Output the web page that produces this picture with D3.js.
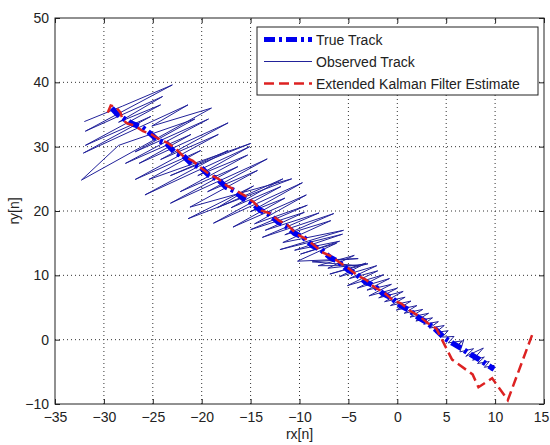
<!DOCTYPE html>
<html>
<head>
<meta charset="utf-8">
<script src="https://cdn.jsdelivr.net/npm/d3@7"></script>
<style>
  body { margin: 0; background: #fff; }
  text { font-family: "Liberation Sans", Arial, sans-serif; font-size: 14px; fill: #222; }
</style>
</head>
<body>
<div id="vis"></div>
<script>
// true track (thick blue dash-dot)
const trueX = [-29.2, -28.6, -27.8, -27.0, -26.1, -25.3, -24.5, -23.6, -22.7, -21.9, -21.0, -20.1, -19.3, -18.4,
  -17.5, -16.6, -15.8, -14.9, -14.0, -13.1, -12.2, -11.3, -10.5, -9.6, -8.7, -7.8, -6.9, -6.0, -5.1, -4.2,
  -3.3, -2.4, -1.5, -0.6, 0.3, 1.2, 2.1, 3.0, 3.9, 4.8, 5.7, 6.6, 7.5, 8.4, 9.2, 9.9]
const trueY = [36.0, 35.0, 34.2, 33.5, 33.0, 32.1, 31.0, 30.5, 29.0, 28.6, 27.3, 26.8, 25.6, 25.0,
  23.7, 23.1, 22.0, 21.3, 20.1, 19.5, 18.3, 17.6, 16.5, 15.9, 14.6, 14.0, 12.8, 12.1, 10.9, 10.2,
  9.0, 8.4, 7.2, 6.5, 5.3, 4.6, 3.5, 2.7, 1.6, 0.3, -0.6, -1.4, -2.3, -3.1, -3.9, -4.6]

// observed track (thin navy line)
const obsX = [-32.0, -28.1, -23.0, -31.9, -24.0, -28.5, -24.2, -31.9, -25.2, -32.1, -21.4, -25.1, -19.0, -32.3,
  -28.5, -20.7, -26.8, -19.3, -27.8, -21.1, -26.4, -17.3, -24.2, -18.3, -26.8, -20.1, -25.4, -15.0,
  -23.2, -17.3, -25.8, -15.1, -20.4, -15.3, -22.2, -16.3, -23.2, -13.3, -19.4, -14.3, -21.2, -10.8,
  -21.4, -14.7, -18.4, -11.7, -17.0, -11.9, -18.8, -9.7, -15.0, -11.5, -16.8, -9.3, -14.6, -9.2,
  -15.0, -9.5, -13.5, -8.0, -13.8, -6.5, -11.5, -6.8, -11.7, -5.5, -12.0, -5.6, -10.5, -5.9,
  -9.9, -6.2, -10.2, -4.0, -8.7, -3.9, -8.1, -4.4, -7.1, -3.0, -6.9, -3.2, -5.9, -2.1,
  -4.9, -2.0, -5.1, -1.4, -4.1, -0.8, -3.1, -0.6, -2.9, 0.0, -1.9, 0.6, -1.3, 0.8,
  -0.7, 1.4, -0.1, 2.0, 0.7, 2.6, 1.3, 3.2, 1.9, 3.6, 2.7, 4.2, 3.3, 4.8, 3.9, 5.2,
  4.6, 5.8, 5.2, 6.6, 6.0, 6.8, 6.4, 7.8, 7.0, 8.8, 7.7, 8.9, 8.2, 9.4, 8.9, 9.9, 9.6]
const obsY = [33.9, 36.3, 39.6, 32.4, 37.8, 33.8, 36.5, 30.2, 34.7, 29.0, 36.5, 33.2, 36.0, 24.8,
  30.2, 34.3, 29.2, 34.3, 27.4, 31.9, 27.4, 33.7, 28.0, 31.9, 24.9, 29.4, 24.9, 30.5,
  25.5, 29.4, 22.5, 30.0, 25.5, 28.7, 23.0, 26.9, 21.2, 28.1, 23.0, 26.3, 20.6, 25.0,
  18.8, 23.9, 20.5, 25.0, 20.5, 23.8, 18.1, 24.4, 19.9, 22.0, 17.5, 22.5, 18.0, 20.9,
  17.1, 19.8, 17.0, 19.7, 15.9, 19.6, 16.3, 18.5, 15.1, 17.0, 14.0, 16.4, 13.9, 15.3,
  13.3, 15.0, 12.2, 12.6, 12.1, 11.5, 11.5, 13.1, 11.1, 11.8, 10.2, 11.9, 9.8, 11.5,
  9.5, 10.7, 8.4, 10.1, 8.0, 9.5, 7.7, 8.6, 6.8, 8.0, 6.5, 7.5, 5.9, 6.6,
  5.3, 6.0, 4.6, 5.3, 4.1, 4.7, 3.5, 4.1, 2.9, 3.4, 2.4, 2.8, 1.8, 2.2, 1.1, 1.4,
  0.4, 0.5, -0.5, -0.2, -1.2, 0.0, -1.9, -1.4, -2.6, -1.3, -3.2, -2.7, -3.7, -3.4, -4.3, -4.0, -4.8]

// extended kalman filter estimate (red dashed)
const ekfX = [-29.6, -29.3, -28.8, -28.3, -28.1, -27.6, -26.9, -26.0, -25.2, -24.4, -23.5, -22.6, -21.8, -20.9,
  -20.0, -19.1, -18.3, -17.4, -16.5, -15.6, -14.7, -13.9, -13.0, -12.1, -11.2, -10.3, -9.5, -8.6,
  -7.7, -6.8, -5.9, -5.0, -4.1, -3.2, -2.3, -1.4, -0.5, 0.4, 1.3, 2.2, 3.1, 4.0, 4.9, 5.6,
  7.7, 8.3, 9.7, 11.3, 13.9]
const ekfY = [35.3, 36.4, 36.2, 35.3, 34.2, 33.6, 33.3, 32.4, 32.0, 31.2, 30.6, 29.6, 28.4, 27.8,
  26.6, 25.6, 25.0, 23.9, 23.2, 22.4, 21.4, 20.1, 19.6, 18.5, 17.8, 16.4, 15.8, 14.8,
  13.6, 13.0, 12.0, 11.1, 10.0, 9.3, 8.1, 7.4, 6.2, 5.6, 4.5, 3.7, 2.6, 1.7, -1.0, -3.1,
  -5.4, -7.4, -6.0, -9.4, 1.2]

const xTicks = [-35, -30, -25, -20, -15, -10, -5, 0, 5, 10, 15]
const yTicks = [-10, 0, 10, 20, 30, 40, 50]
const legendNames = ['True Track', 'Observed Track', 'Extended Kalman Filter Estimate']

const width = 550
const height = 445
const margin = { top: 18, right: 6, bottom: 41, left: 55 }

const svg = d3.select('#vis').append('svg')
  .attr('width', width)
  .attr('height', height)

const x = d3.scaleLinear().domain([-35, 15]).range([margin.left, width - margin.right])
const y = d3.scaleLinear().domain([-10, 50]).range([height - margin.bottom, margin.top])

// dotted grid
const grid = svg.append('g').attr('stroke', '#333').attr('stroke-dasharray', '1,3')
grid.selectAll('.gx').data(xTicks.slice(1, -1)).enter().append('line')
  .attr('x1', d => x(d)).attr('x2', d => x(d))
  .attr('y1', y(-10)).attr('y2', y(50))
grid.selectAll('.gy').data(yTicks.slice(1, -1)).enter().append('line')
  .attr('x1', x(-35)).attr('x2', x(15))
  .attr('y1', d => y(d)).attr('y2', d => y(d))

// axes, ticks point inwards like matlab
const axB = svg.append('g').attr('transform', `translate(0,${y(-10)})`)
  .call(d3.axisBottom(x).tickValues(xTicks).tickSizeInner(-5).tickSizeOuter(0).tickPadding(8))
const axL = svg.append('g').attr('transform', `translate(${x(-35)},0)`)
  .call(d3.axisLeft(y).tickValues(yTicks).tickSizeInner(-5).tickSizeOuter(0).tickPadding(6))
svg.append('g').attr('transform', `translate(0,${y(50)})`)
  .call(d3.axisTop(x).tickValues(xTicks).tickSizeInner(-5).tickSizeOuter(0).tickFormat(''))
svg.append('g').attr('transform', `translate(${x(15)},0)`)
  .call(d3.axisRight(y).tickValues(yTicks).tickSizeInner(-5).tickSizeOuter(0).tickFormat(''))
svg.selectAll('.domain').remove()
svg.selectAll('.tick line').attr('stroke', '#222')
svg.selectAll('.tick text').attr('font-size', 14).attr('fill', '#222')
  .attr('font-family', '"Liberation Sans", Arial, sans-serif')
// last x label sits at the window edge, nudge it in
axB.selectAll('.tick text').filter(d => d === 15).attr('dx', -3)

svg.append('rect')
  .attr('x', x(-35)).attr('y', y(50))
  .attr('width', x(15) - x(-35)).attr('height', y(-10) - y(50))
  .attr('fill', 'none').attr('stroke', '#222')

// lines
const line = d3.line().x(d => x(d[0])).y(d => y(d[1]))
const obs = obsX.map((v, i) => [v, obsY[i]])
const tru = trueX.map((v, i) => [v, trueY[i]])
const ekf = ekfX.map((v, i) => [v, ekfY[i]])

svg.append('path').datum(obs).attr('d', line)
  .attr('fill', 'none').attr('stroke', '#22229a').attr('stroke-width', 1)
svg.append('path').datum(tru).attr('d', line)
  .attr('fill', 'none').attr('stroke', '#0000ee').attr('stroke-width', 5.5)
  .attr('stroke-dasharray', '11,4,3,4')
svg.append('path').datum(ekf).attr('d', line)
  .attr('fill', 'none').attr('stroke', '#dd2222').attr('stroke-width', 2.5)
  .attr('stroke-dasharray', '10,5')

// axis labels
svg.append('text').attr('x', (x(-35) + x(15)) / 2).attr('y', 439)
  .attr('text-anchor', 'middle').text('rx[n]')
svg.append('text').attr('transform', `translate(19,${(y(-10) + y(50)) / 2}) rotate(-90)`)
  .attr('text-anchor', 'middle').text('ry[n]')

// legend
const lg = svg.append('g').attr('transform', 'translate(257,27)')
lg.append('rect').attr('width', 281).attr('height', 68)
  .attr('fill', '#fff').attr('stroke', '#222')
const styles = [
  { stroke: '#0000ee', w: 5, dash: '11,4,3,4' },
  { stroke: '#22229a', w: 1, dash: null },
  { stroke: '#dd2222', w: 2.5, dash: '10,5' }
]
legendNames.forEach((name, i) => {
  const cy = 12.5 + i * 22
  lg.append('line').attr('x1', 7).attr('x2', 55).attr('y1', cy).attr('y2', cy)
    .attr('stroke', styles[i].stroke).attr('stroke-width', styles[i].w)
    .attr('stroke-dasharray', styles[i].dash)
  lg.append('text').attr('x', 59).attr('y', cy + 5).text(name)
})
</script>
</body>
</html>
